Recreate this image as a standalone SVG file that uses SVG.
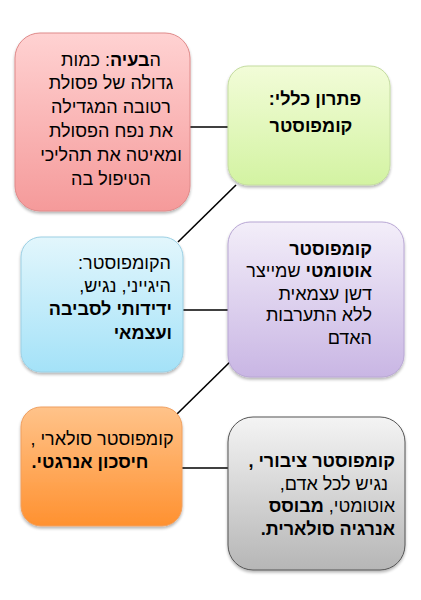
<svg xmlns="http://www.w3.org/2000/svg" width="421" height="600" viewBox="0 0 421 600">
<style>
text{font-family:"Liberation Sans","DejaVu Sans",sans-serif;font-size:18px;fill:#000;direction:rtl}
.b{font-weight:bold}
.box{stroke-width:1}
.c{stroke:#000;stroke-width:1.6;fill:none}
</style>
<defs>
<filter id="sh" x="-10%" y="-10%" width="120%" height="125%"><feGaussianBlur in="SourceAlpha" stdDeviation="1.5"/><feOffset dx="0" dy="2"/><feComponentTransfer><feFuncA type="linear" slope="0.3"/></feComponentTransfer><feMerge><feMergeNode/><feMergeNode in="SourceGraphic"/></feMerge></filter>
<linearGradient id="gr" x1="0" y1="0" x2="0" y2="1"><stop offset="0" stop-color="#ffd2d2"/><stop offset="1" stop-color="#f59a9a"/></linearGradient>
<linearGradient id="gg" x1="0" y1="0" x2="0" y2="1"><stop offset="0" stop-color="#f2fcd8"/><stop offset="1" stop-color="#d3f3a2"/></linearGradient>
<linearGradient id="gb" x1="0" y1="0" x2="0" y2="1"><stop offset="0" stop-color="#e2f6fc"/><stop offset="1" stop-color="#a4e2f8"/></linearGradient>
<linearGradient id="gp" x1="0" y1="0" x2="0" y2="1"><stop offset="0" stop-color="#f3eef9"/><stop offset="1" stop-color="#c9b6e4"/></linearGradient>
<linearGradient id="go" x1="0" y1="0" x2="0" y2="1"><stop offset="0" stop-color="#ffc38a"/><stop offset="1" stop-color="#ff9130"/></linearGradient>
<linearGradient id="gy" x1="0" y1="0" x2="0" y2="1"><stop offset="0" stop-color="#f4f4f4"/><stop offset="1" stop-color="#b6b6b6"/></linearGradient>
</defs>
<g id="connectors">
<line class="c" x1="190" y1="127" x2="228" y2="127"/>
<line class="c" x1="236" y1="185" x2="178" y2="242"/>
<line class="c" x1="183" y1="310" x2="228" y2="310"/>
<line class="c" x1="234" y1="358" x2="177" y2="414"/>
<line class="c" x1="182" y1="468" x2="229" y2="468"/>
</g>
<g id="problem">
<rect class="box" x="15" y="33" width="175" height="178" rx="25" fill="url(#gr)" stroke="#e08a8a" filter="url(#sh)"/>
<text x="111" y="66" text-anchor="middle">ה<tspan class="b">בעיה</tspan>: כמות</text>
<text x="111" y="89" text-anchor="middle">גדולה של פסולת</text>
<text x="111" y="113" text-anchor="middle">רטובה המגדילה</text>
<text x="111" y="137" text-anchor="middle">את נפח הפסולת</text>
<text x="111" y="161" text-anchor="middle">ומאיטה את תהליכי</text>
<text x="111" y="185" text-anchor="middle">הטיפול בה</text>
</g>
<g id="solution">
<rect class="box" x="228" y="66" width="162" height="119" rx="20" fill="url(#gg)" stroke="#c4dca0" filter="url(#sh)"/>
<text class="b" x="315" y="105" text-anchor="middle">פתרון כללי:</text>
<text class="b" x="311" y="132" text-anchor="middle">קומפוסטר</text>
</g>
<g id="hygienic">
<rect class="box" x="21" y="237" width="162" height="135" rx="20" fill="url(#gb)" stroke="#9cd0e4" filter="url(#sh)"/>
<text x="171" y="269" text-anchor="start">הקומפוסטר:</text>
<text x="171" y="292" text-anchor="start">היגייני, נגיש,</text>
<text class="b" x="172" y="315" text-anchor="start">ידידותי לסביבה</text>
<text class="b" x="172" y="339" text-anchor="start">ועצמאי</text>
</g>
<g id="automatic">
<rect class="box" x="228" y="222" width="176" height="155" rx="22" fill="url(#gp)" stroke="#b8a6d4" filter="url(#sh)"/>
<text class="b" x="372" y="255" text-anchor="start">קומפוסטר</text>
<text x="372" y="277" text-anchor="start"><tspan class="b">אוטומטי</tspan> שמייצר</text>
<text x="372" y="300" text-anchor="start">דשן עצמאית</text>
<text x="372" y="321" text-anchor="start">ללא התערבות</text>
<text x="372" y="344" text-anchor="start">האדם</text>
</g>
<g id="solar">
<rect class="box" x="21" y="407" width="161" height="119" rx="20" fill="url(#go)" stroke="#f0a060" filter="url(#sh)"/>
<text x="102" y="445" text-anchor="middle">קומפוסטר סולארי ,</text>
<text class="b" x="90" y="468" text-anchor="middle">חיסכון אנרגטי.</text>
</g>
<g id="public">
<rect class="box" x="228" y="417" width="177" height="153" rx="25" fill="url(#gy)" stroke="#555" filter="url(#sh)"/>
<text class="b" x="395" y="467" text-anchor="start">קומפוסטר ציבורי ,</text>
<text x="388" y="490" text-anchor="start">נגיש לכל אדם,</text>
<text x="395" y="512" text-anchor="start">אוטומטי, <tspan class="b">מבוסס</tspan></text>
<text class="b" x="395" y="535" text-anchor="start">אנרגיה סולארית.</text>
</g>
</svg>
